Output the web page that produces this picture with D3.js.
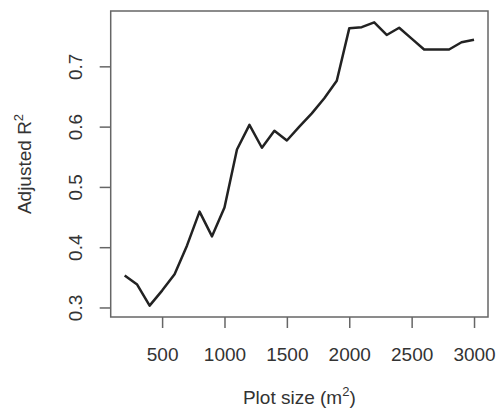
<!DOCTYPE html>
<html>
<head>
<meta charset="utf-8">
<script src="https://cdn.jsdelivr.net/npm/d3@7"></script>
<style>
  body { margin: 0; background: #fff; }
  text { font-family: "Liberation Sans", Arial, sans-serif; fill: #333; }
  .tick line { stroke: #666; stroke-width: 1.5; }
</style>
</head>
<body>
<svg width="497" height="412"></svg>
<script>
var plotSize = [200, 300, 400, 500, 600, 700, 800, 900, 1000, 1100, 1200, 1300, 1400, 1500,
                1600, 1700, 1800, 1900, 2000, 2100, 2200, 2300, 2400, 2500, 2600, 2700, 2800, 2900, 3000];
var adjR2 = [0.353, 0.338, 0.303, 0.328, 0.355, 0.403, 0.459, 0.418, 0.466, 0.562, 0.603, 0.565, 0.593, 0.577,
             0.600, 0.622, 0.647, 0.676, 0.763, 0.765, 0.773, 0.752, 0.764, 0.746, 0.728, 0.728, 0.728, 0.740, 0.744];
var xTicks = [500, 1000, 1500, 2000, 2500, 3000];
var yTicks = [0.3, 0.4, 0.5, 0.6, 0.7];

var svg = d3.select("svg"),
    mLeft = 110.7, mRight = 488, mTop = 11, mBottom = 317;

// R style 4% padding on the data range
function pad(ext) {
    var d = (ext[1] - ext[0]) * 0.04;
    return [ext[0] - d, ext[1] + d];
}

var x = d3.scaleLinear().domain(pad(d3.extent(plotSize))).range([mLeft, mRight]);
var y = d3.scaleLinear().domain(pad(d3.extent(adjR2))).range([mBottom, mTop]);

var data = plotSize.map(function(p, i) { return {x: p, y: adjR2[i]}; });

// x axis
var xAxis = svg.append("g")
    .attr("transform", "translate(0," + mBottom + ")")
    .call(d3.axisBottom(x).tickValues(xTicks).tickSize(11).tickPadding(20).tickFormat(d3.format("d")));
xAxis.select(".domain").remove();
xAxis.selectAll("text").style("font-size", "19px").attr("fill", "#333");

// y axis, labels turned like R
var yAxis = svg.append("g")
    .attr("transform", "translate(" + mLeft + ",0)")
    .call(d3.axisLeft(y).tickValues(yTicks).tickSize(11).tickFormat(d3.format(".1f")));
yAxis.select(".domain").remove();
yAxis.selectAll("text")
    .style("font-size", "19px")
    .attr("fill", "#333")
    .attr("x", 0)
    .attr("dy", 0)
    .attr("text-anchor", "middle")
    .attr("transform", "translate(-29,0) rotate(-90)");

// box
svg.append("rect")
    .attr("x", mLeft).attr("y", mTop)
    .attr("width", mRight - mLeft).attr("height", mBottom - mTop)
    .attr("fill", "none").attr("stroke", "#666").attr("stroke-width", 1.5);

// line
var line = d3.line()
    .x(function(d) { return x(d.x); })
    .y(function(d) { return y(d.y); });

svg.append("path")
    .attr("d", line(data))
    .attr("fill", "none")
    .attr("stroke", "#222")
    .attr("stroke-width", 2.5)
    .attr("stroke-linejoin", "round");

// titles
var xt = svg.append("text")
    .attr("x", (mLeft + mRight) / 2).attr("y", 404)
    .attr("text-anchor", "middle")
    .style("font-size", "19px");
xt.append("tspan").text("Plot size (m");
xt.append("tspan").text("2").style("font-size", "13px").attr("dy", -8);
xt.append("tspan").text(")").attr("dy", 8);

var yt = svg.append("text")
    .attr("transform", "translate(31," + (mTop + mBottom) / 2 + ") rotate(-90)")
    .attr("text-anchor", "middle")
    .style("font-size", "19px");
yt.append("tspan").text("Adjusted R");
yt.append("tspan").text("2").style("font-size", "13px").attr("dy", -8);
</script>
</body>
</html>
